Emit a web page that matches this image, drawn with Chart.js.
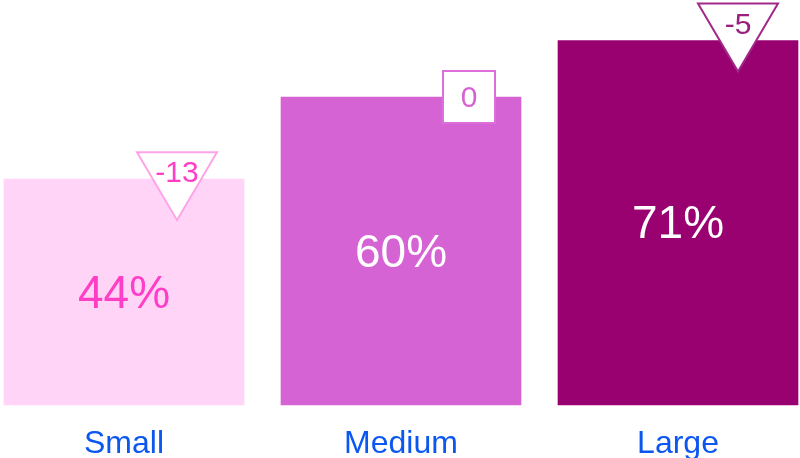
<!DOCTYPE html>
<html>
  <head>
    <script src="https://cdn.jsdelivr.net/npm/chart.js@4.4.0/dist/chart.umd.min.js"></script>
    <style>
      html, body { margin: 0; padding: 0; background: #fff; }
      #wrap { width: 800px; height: 458px; }
    </style>
  </head>
  <body>
    <div id="wrap"><canvas id="barChart"></canvas></div>
    <script>
      var categories = ['Small', 'Medium', 'Large'];
      var shares = [44, 60, 71];
      var changes = [-13, 0, -5];

      var barColors = ['#ffd4f6', '#d563d3', '#990070'];
      var valueColors = ['#ff3ec8', '#ffffff', '#ffffff'];
      var markerLine = ['#ffa3e8', '#dc6fdb', '#a0288a'];
      var markerText = ['#ff3ec8', '#d563d3', '#99207d'];
      // marker placement relative to bar centre / bar top
      var markerDx = [53, 68, 60];
      var markerDy = [-27, 0, -37];

      var markers = {
        id: 'markers',
        afterDatasetsDraw: function(chart) {
          var c = chart.ctx;
          var meta = chart.getDatasetMeta(0);
          meta.data.forEach(function(bar, i) {
            c.save();
            c.textAlign = 'center';
            c.textBaseline = 'middle';
            c.fillStyle = valueColors[i];
            c.font = '46px "Liberation Sans", Arial, sans-serif';
            c.fillText(shares[i] + '%', bar.x, (bar.y + bar.base) / 2 + 3);

            var cx = bar.x + markerDx[i];
            c.lineWidth = 2;
            c.strokeStyle = markerLine[i];
            c.fillStyle = '#ffffff';
            var ty;
            if (changes[i] < 0) {
              var top = bar.y + markerDy[i];
              c.beginPath();
              c.moveTo(cx - 40, top);
              c.lineTo(cx + 40, top);
              c.lineTo(cx, top + 68);
              c.closePath();
              c.fill();
              c.stroke();
              ty = top + 22;
            } else {
              var cy = bar.y + markerDy[i];
              c.fillRect(cx - 26, cy - 26, 52, 52);
              c.strokeRect(cx - 26, cy - 26, 52, 52);
              ty = cy + 2;
            }
            c.fillStyle = markerText[i];
            c.font = '30px "Liberation Sans", Arial, sans-serif';
            c.fillText(String(changes[i]), cx, ty);
            c.restore();
          });
        }
      };

      var ctx = document.getElementById('barChart').getContext('2d');
      var chart = new Chart(ctx, {
        type: 'bar',
        data: {
          labels: categories,
          datasets: [{
            data: shares,
            backgroundColor: barColors,
            borderWidth: 0,
            barThickness: 240,
            clip: false
          }]
        },
        options: {
          responsive: true,
          maintainAspectRatio: false,
          animation: false,
          layout: { padding: { left: 124, right: 122, top: 0, bottom: 0 } },
          plugins: {
            legend: { display: false },
            tooltip: { enabled: false }
          },
          scales: {
            x: {
              offset: false,
              grid: { display: false, drawTicks: false },
              border: { display: false },
              ticks: {
                color: '#0b57f0',
                padding: 20,
                font: { family: '"Liberation Sans", Arial, sans-serif', size: 32 }
              },
              afterFit: function(s) { s.height = 53; }
            },
            y: {
              display: false,
              min: 0,
              max: 78.9
            }
          }
        },
        plugins: [markers]
      });
    </script>
  </body>
</html>
